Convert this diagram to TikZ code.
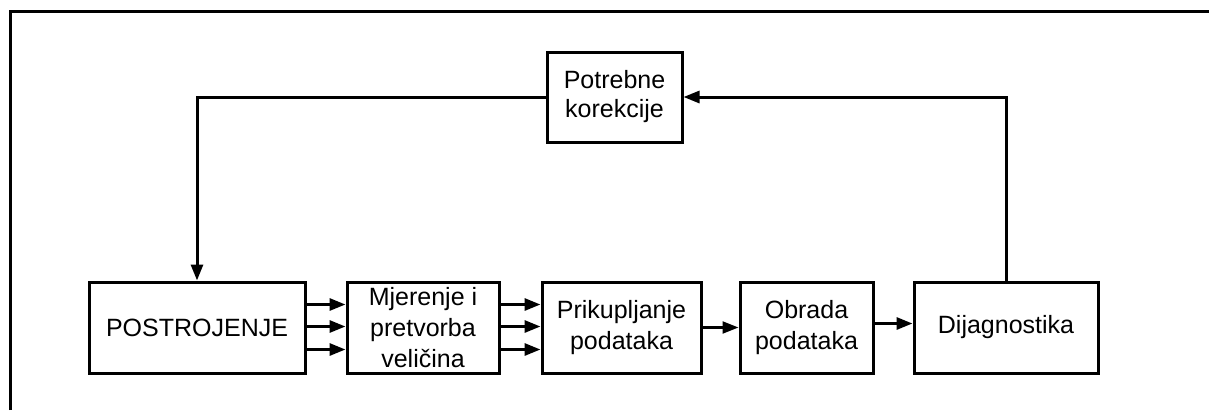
\documentclass[tikz,border=0pt]{standalone}
\usepackage{fontspec}
\setmainfont{Liberation Sans}
\usetikzlibrary{arrows.meta}
\tikzset{
  blk/.style={draw=black, line width=3pt, rectangle, inner sep=0pt, align=center,
    minimum height=91pt, font=\fontsize{25}{31}\selectfont},
  arr/.style={line width=3pt, -{Triangle[length=16pt,width=12pt]}},
  thinarr/.style={line width=2.2pt, -{Triangle[length=16pt,width=12pt]}},
  frameline/.style={line width=3pt}
}
\begin{document}
\begin{tikzpicture}[x=1pt,y=-1pt]
\useasboundingbox (0,0) rectangle (1209,410);
\coordinate (fa) at (10,410);
\coordinate (fb) at (10,11);
\coordinate (fc) at (1210,11);
\draw[frameline] (fa) -- (fb) -- (fc);

\node[blk, minimum width=216pt] (post) at (197,327.5) {POSTROJENJE};
\node[blk, minimum width=152pt] (mjer) at (423,327.5) {Mjerenje i\\pretvorba\\veličina};
\node[blk, minimum width=159pt] (prik) at (621.5,327.5) {Prikupljanje\\podataka};
\node[blk, minimum width=133pt] (obr) at (806.5,327.5) {Obrada\\podataka};
\node[blk, minimum width=184pt] (dij) at (1006,327.5) {Dijagnostika};
\node[blk, minimum width=135pt, minimum height=90pt, font=\fontsize{25}{29}\selectfont] (pot) at (614.5,97) {Potrebne\\korekcije};

\foreach \s in {23,1,-22}{
  \draw[arr] ([yshift=\s pt]post.east) -- ([yshift=\s pt]mjer.west);
  \draw[arr] ([yshift=\s pt]mjer.east) -- ([yshift=\s pt]prik.west);
}
\draw[thinarr] (prik.east) -- (obr.west);
\draw[arr] ([yshift=4pt]obr.east) -- ([yshift=4pt]dij.west);

\draw[arr] (dij.north) |- (pot.east);
\draw[arr] (pot.west) -| (post.north);
\end{tikzpicture}
\end{document}
